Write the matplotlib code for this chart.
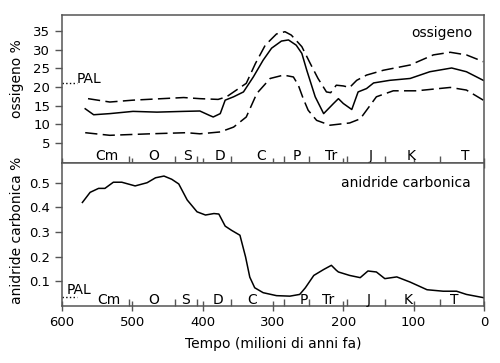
import matplotlib
matplotlib.use("Agg")
import matplotlib.pyplot as plt

# oxygen (%), age in millions of years ago
o2_age = [567, 555, 532, 499, 465, 427, 404, 390, 385, 375, 368, 356, 342, 328,
          314, 302, 288, 278, 267, 259, 252, 240, 228, 214, 207, 200, 188, 179,
          167, 157, 134, 105, 77, 46, 25, 1]
o2_mid = [14.2, 12.6, 12.9, 13.5, 13.3, 13.5, 13.6, 12.4, 12.0, 12.9, 16.5, 17.4, 18.7, 22.7,
          27.2, 30.4, 32.3, 32.6, 31.2, 29.0, 24.5, 17.4, 12.9, 15.6, 16.9, 15.6, 14.0, 18.7,
          19.6, 21.1, 21.8, 22.3, 24.1, 25.1, 24.1, 21.8]

o2_hi_age = [563, 532, 499, 427, 404, 378, 366, 352, 338, 325, 311, 295, 283, 274,
             259, 247, 236, 224, 218, 210, 200, 191, 181, 167, 143, 105, 72, 48, 25, 1]
o2_hi = [16.9, 16.0, 16.5, 17.2, 16.9, 16.7, 17.4, 19.2, 21.0, 26.3, 31.2, 34.2, 34.8, 33.9,
         30.8, 26.3, 22.3, 18.7, 18.5, 20.5, 20.3, 19.9, 21.8, 23.2, 24.5, 25.9, 28.6, 29.3, 28.6, 26.8]

o2_lo_age = [567, 532, 475, 423, 404, 375, 356, 338, 323, 304, 285, 271, 264, 257,
             250, 238, 219, 191, 176, 167, 153, 129, 96, 48, 25, 1]
o2_lo = [7.8, 7.1, 7.5, 7.8, 7.5, 8.0, 9.3, 12.0, 18.3, 22.3, 23.2, 22.7, 20.5, 16.9,
         13.8, 11.1, 9.8, 10.4, 11.5, 13.8, 17.4, 19.0, 19.0, 19.9, 19.2, 16.5]

# carbon dioxide (%)
co2_age = [571, 560, 548, 539, 527, 515, 496, 479, 467, 455, 444, 434, 422, 408,
           396, 384, 377, 368, 359, 347, 339, 333, 326, 314, 295, 276, 262, 254,
           242, 228, 217, 210, 207, 191, 176, 165, 153, 141, 124, 105, 81, 58, 39, 25, 1]
co2 = [0.42, 0.461, 0.477, 0.477, 0.502, 0.502, 0.487, 0.50, 0.52, 0.527, 0.514, 0.495, 0.43, 0.382,
       0.369, 0.375, 0.373, 0.324, 0.307, 0.287, 0.199, 0.117, 0.074, 0.054, 0.042, 0.040, 0.047, 0.074,
       0.124, 0.148, 0.165, 0.145, 0.138, 0.124, 0.115, 0.142, 0.138, 0.111, 0.118, 0.097, 0.066, 0.06,
       0.06, 0.047, 0.034]

pal_o2 = 21
pal_co2 = 0.035

# geological periods
boundaries = [505, 439, 408, 360, 285, 249, 195, 141, 62]
periods = ["Cm", "O", "S", "D", "C", "P", "Tr", "J", "K", "T"]
label_age_top = [536, 469, 422, 375, 317, 266, 218, 161, 104, 26]
label_age_bot = [533, 470, 425, 378, 329, 256, 221, 164, 108, 42]

spine_c = "#555555"
plt.rcParams["font.family"] = "DejaVu Sans"
plt.rcParams["font.size"] = 9.5

fig = plt.figure(figsize=(5, 3.63), dpi=100)
ax1 = fig.add_axes([0.124, 0.551, 0.844, 0.408])
ax2 = fig.add_axes([0.124, 0.157, 0.844, 0.394], sharex=ax1)

ax1.plot(o2_age, o2_mid, color="black", lw=1.1)
ax1.plot(o2_hi_age, o2_hi, color="black", lw=1.1, dashes=(8, 3.5))
ax1.plot(o2_lo_age, o2_lo, color="black", lw=1.1, dashes=(8, 3.5))
ax1.set_ylim(-0.3, 39.3)
ax1.set_yticks([5, 10, 15, 20, 25, 30, 35])
ax1.set_ylabel("ossigeno %", fontsize=10)
ax1.yaxis.set_label_coords(-0.09, 0.568)
ax1.hlines(pal_o2, 600, 579, colors="black", linestyles=":", lw=1)
ax1.text(579, 22.1, "PAL", va="center", ha="left", fontsize=10)
ax1.text(0.972, 0.878, "ossigeno", transform=ax1.transAxes, ha="right", va="center", fontsize=10)

ax2.plot(co2_age, co2, color="black", lw=1.1)
ax2.set_ylim(0, 0.58)
ax2.set_yticks([0.1, 0.2, 0.3, 0.4, 0.5])
ax2.set_ylabel("anidride carbonica %", fontsize=10)
ax2.yaxis.set_label_coords(-0.09, 0.53)
ax2.hlines(pal_co2, 600, 579, colors="black", linestyles=":", lw=1)
ax2.text(593, 0.063, "PAL", va="center", ha="left", fontsize=10)
ax2.text(0.969, 0.86, "anidride carbonica", transform=ax2.transAxes, ha="right", va="center", fontsize=10)

ax2.set_xlim(600, 0)
ax2.set_xticks([600, 500, 400, 300, 200, 100, 0])
ax2.set_xlabel("Tempo (milioni di anni fa)", fontsize=10, labelpad=6)

for ax, label_ages in [(ax1, label_age_top), (ax2, label_age_bot)]:
    for s in ax.spines.values():
        s.set_color(spine_c)
        s.set_linewidth(1.1)
    ax.set_xticks(boundaries, minor=True)
    ax.tick_params(axis="x", which="major", direction="inout", length=7, width=1, color=spine_c)
    ax.tick_params(axis="x", which="minor", direction="in", length=5, width=1, color=spine_c)
    ax.tick_params(axis="y", direction="out", length=5, width=1, color=spine_c)
    for name, age in zip(periods, label_ages):
        ax.text(age, 0.017, name, transform=ax.get_xaxis_transform(),
                ha="center", va="baseline", fontsize=10)

ax1.tick_params(axis="x", labelbottom=False)

fig.savefig("out.png", dpi=100)
